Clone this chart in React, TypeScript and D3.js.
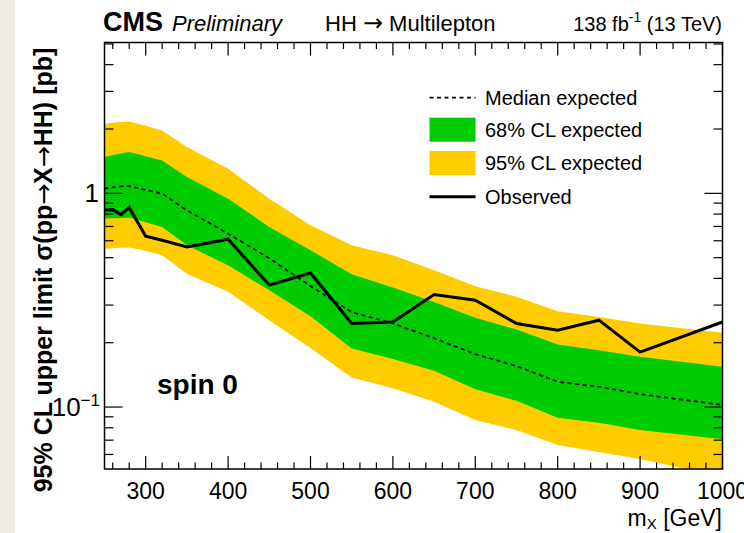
import React from "react";
import * as d3 from "d3";

const masses = [250, 260, 270, 280, 300, 320, 350, 400, 450, 500, 550, 600, 650, 700, 750, 800, 850, 900, 1000];
const observed = [0.833, 0.839, 0.795, 0.857, 0.63, 0.603, 0.561, 0.61, 0.372, 0.424, 0.246, 0.25, 0.336, 0.316, 0.246, 0.229, 0.255, 0.1807, 0.25];
const expMedian = [1.052, 1.067, 1.078, 1.082, 1.038, 0.997, 0.833, 0.648, 0.497, 0.368, 0.278, 0.246, 0.21, 0.177, 0.1554, 0.1313, 0.1244, 0.115, 0.1022];
const exp68Up = [1.477, 1.513, 1.538, 1.56, 1.492, 1.426, 1.192, 0.944, 0.696, 0.542, 0.418, 0.3625, 0.3105, 0.2615, 0.2307, 0.1963, 0.1846, 0.1718, 0.1543];
const exp68Down = [0.762, 0.764, 0.767, 0.77, 0.732, 0.696, 0.571, 0.461, 0.352, 0.266, 0.188, 0.1676, 0.1478, 0.121, 0.107, 0.0891, 0.0845, 0.0781, 0.0706];
const exp95Up = [2.117, 2.14, 2.159, 2.17, 2.072, 1.97, 1.646, 1.304, 0.944, 0.709, 0.571, 0.513, 0.437, 0.368, 0.328, 0.281, 0.264, 0.246, 0.2225];
const exp95Down = [0.551, 0.553, 0.556, 0.558, 0.538, 0.513, 0.421, 0.346, 0.255, 0.1887, 0.1376, 0.1223, 0.1059, 0.0869, 0.0781, 0.0664, 0.0616, 0.0571, 0.0471];

const xMajorTicks = [300, 400, 500, 600, 700, 800, 900, 1000];
const xMinorTicks = d3.range(260, 1000, 20).filter((v) => v % 100 !== 0);
const yMajorTicks = [0.1, 1];
const yMinorTicks = [0.06, 0.07, 0.08, 0.09, 0.2, 0.3, 0.4, 0.5, 0.6, 0.7, 0.8, 0.9, 2, 3, 4, 5];

const legendLabels = ["Median expected", "68% CL expected", "95% CL expected", "Observed"];

const W = 744;
const H = 533;
const L = 104.5, R = 722.5, T = 42.5, B = 469;
const FONT = "'Liberation Sans', Arial, Helvetica, sans-serif";
const ARROW_FONT = "'DejaVu Sans', sans-serif";
const GREEN = "#00cc00";
const YELLOW = "#ffcc00";

export default function App() {
  const x = d3.scaleLinear().domain([250, 1000]).range([L, R]);
  const y = d3.scaleLog().domain([0.0513, 5.08]).range([B, T]);

  const band = (lo: number[], hi: number[]) =>
    d3
      .area<number>()
      .x((_, i) => x(masses[i]))
      .y0((_, i) => y(lo[i]))
      .y1((_, i) => y(hi[i]))(masses) || "";
  const line = (vals: number[]) =>
    d3
      .line<number>()
      .x((_, i) => x(masses[i]))
      .y((_, i) => y(vals[i]))(masses) || "";

  const xMajLen = 13, xMinLen = 6.5, yMajLen = 18, yMinLen = 9;

  const legY = [97.7, 129.7, 163, 196.7];
  const legX0 = 429.5, legX1 = 475.5, legText = 485;

  return (
    <div style={{ position: "fixed", left: 0, top: 0, width: W, height: H }}>
      <svg width={W} height={H} style={{ display: "block", background: "#fff" }} fontFamily={FONT}>
        <rect x={0} y={0} width={15} height={H} fill="#eeebe5" />
        <defs>
          <clipPath id="plotClip">
            <rect x={L} y={T} width={R - L} height={B - T} />
          </clipPath>
        </defs>
        <g clipPath="url(#plotClip)">
          <path d={band(exp95Down, exp95Up)} fill={YELLOW} />
          <path d={band(exp68Down, exp68Up)} fill={GREEN} />
          <path d={line(expMedian)} fill="none" stroke="#000" strokeWidth={1.8} strokeDasharray="4,3.5" />
          <path d={line(observed)} fill="none" stroke="#000" strokeWidth={3} strokeLinejoin="miter" />
        </g>
        {/* frame */}
        <rect x={L} y={T} width={R - L} height={B - T} fill="none" stroke="#000" strokeWidth={1.5} />
        {/* ticks */}
        <g stroke="#000" strokeWidth={1.2}>
          {xMajorTicks.map((t) => (
            <g key={"xM" + t}>
              <line x1={x(t)} x2={x(t)} y1={B} y2={B - xMajLen} />
              <line x1={x(t)} x2={x(t)} y1={T} y2={T + xMajLen} />
            </g>
          ))}
          {xMinorTicks.map((t) => (
            <g key={"xm" + t}>
              <line x1={x(t)} x2={x(t)} y1={B} y2={B - xMinLen} />
              <line x1={x(t)} x2={x(t)} y1={T} y2={T + xMinLen} />
            </g>
          ))}
          {yMajorTicks.map((t) => (
            <g key={"yM" + t}>
              <line x1={L} x2={L + yMajLen} y1={y(t)} y2={y(t)} />
              <line x1={R} x2={R - yMajLen} y1={y(t)} y2={y(t)} />
            </g>
          ))}
          {yMinorTicks.map((t) => (
            <g key={"ym" + t}>
              <line x1={L} x2={L + yMinLen} y1={y(t)} y2={y(t)} />
              <line x1={R} x2={R - yMinLen} y1={y(t)} y2={y(t)} />
            </g>
          ))}
        </g>
        {/* x tick labels */}
        <g fontSize={23} textAnchor="middle" fill="#000">
          {xMajorTicks.map((t) => (
            <text key={"xl" + t} x={x(t)} y={499}>
              {String(t)}
            </text>
          ))}
        </g>
        {/* y tick labels */}
        <text x={99} y={y(1) + 9} fontSize={26} textAnchor="end">1</text>
        <text x={100} y={y(0.1) + 9} fontSize={26} textAnchor="end">
          10<tspan fontSize={17} dy={-10}>−1</tspan>
        </text>
        {/* axis titles */}
        <text x={722} y={526} fontSize={23} textAnchor="end">
          m<tspan fontSize={15} dy={3}>X</tspan><tspan dy={-3}> [GeV]</tspan>
        </text>
        <text
          transform={`translate(52, ${270}) rotate(-90)`}
          fontSize={25}
          fontWeight="bold"
          textAnchor="middle"
        >
          95% CL upper limit  σ(pp<tspan fontFamily={ARROW_FONT} fontWeight="normal">→</tspan>X<tspan fontFamily={ARROW_FONT} fontWeight="normal">→</tspan>HH) [pb]
        </text>
        {/* header */}
        <text x={103} y={31} fontSize={27} fontWeight="bold">CMS</text>
        <text x={172} y={31} fontSize={22} fontStyle="italic">Preliminary</text>
        <text x={325} y={31} fontSize={22}>
          HH <tspan fontFamily={ARROW_FONT} fontSize={24}>→</tspan> Multilepton
        </text>
        <text x={722} y={31} fontSize={20} textAnchor="end">
          138 fb<tspan fontSize={14} dy={-9}>-1</tspan><tspan dy={9}> (13 TeV)</tspan>
        </text>
        {/* spin label */}
        <text x={157} y={394} fontSize={28} fontWeight="bold">spin 0</text>
        {/* legend */}
        <line x1={legX0} x2={legX1} y1={legY[0]} y2={legY[0]} stroke="#000" strokeWidth={1.8} strokeDasharray="4,3.5" />
        <rect x={legX0} y={legY[1] - 12} width={legX1 - legX0} height={24} fill={GREEN} />
        <rect x={legX0} y={legY[2] - 12} width={legX1 - legX0} height={24} fill={YELLOW} />
        <line x1={legX0} x2={legX1} y1={legY[3]} y2={legY[3]} stroke="#000" strokeWidth={3} />
        <g fontSize={20}>
          {legendLabels.map((lab, i) => (
            <text key={lab} x={legText} y={legY[i] + 7.2}>{lab}</text>
          ))}
        </g>
      </svg>
    </div>
  );
}
